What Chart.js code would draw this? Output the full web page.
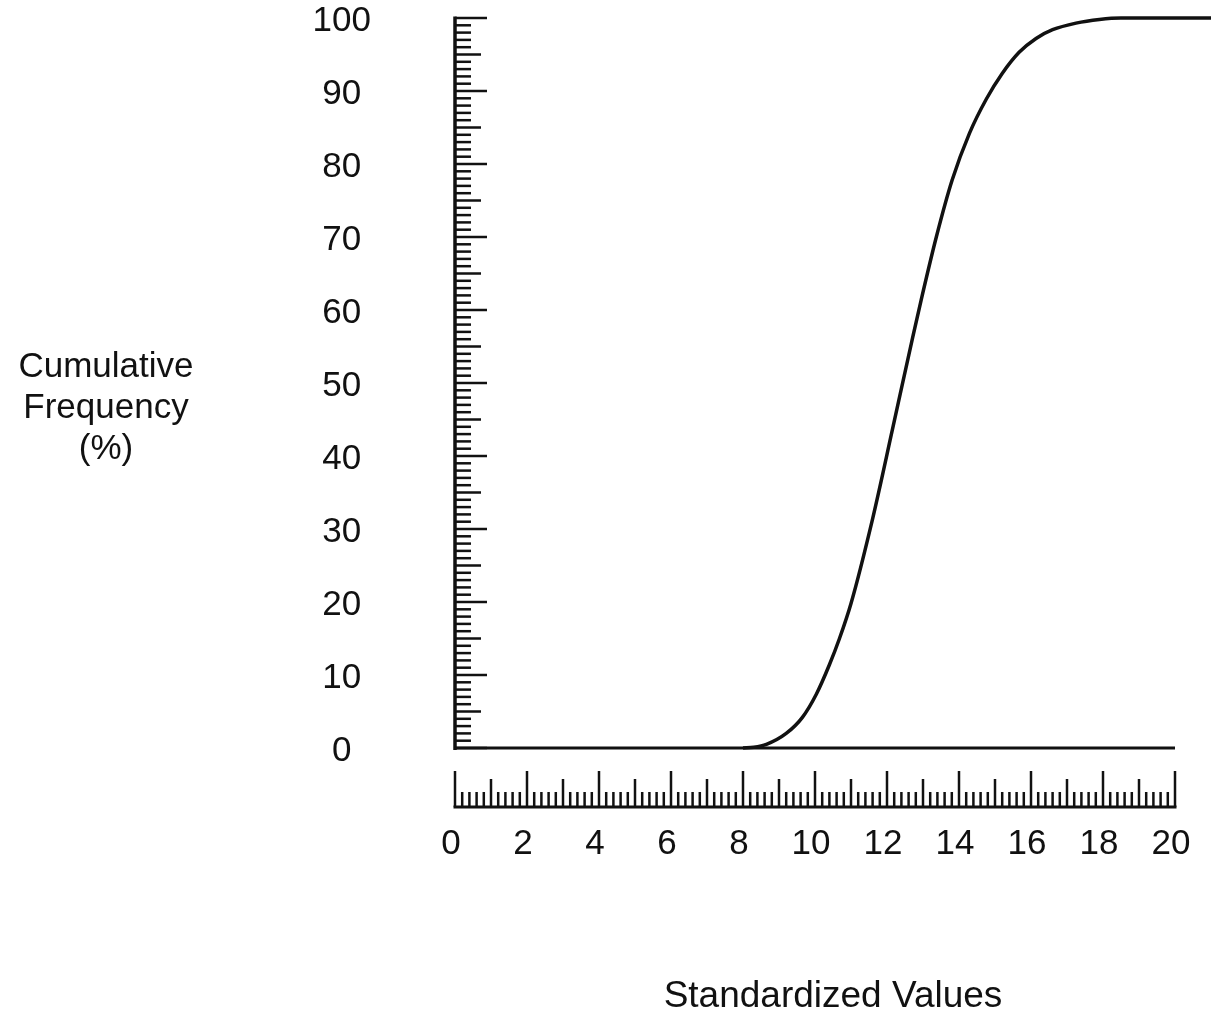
<!DOCTYPE html>
<html lang="en">
<head>
    <meta charset="UTF-8">
    <title>Cumulative Frequency</title>
    <style>
        html, body { margin: 0; padding: 0; background: #fff; }
        .wrap { position: relative; width: 1211px; height: 1016px; }
        .y-title {
            position: absolute; left: 0; top: 344px; width: 212px;
            text-align: center; font-family: "Liberation Sans", Arial, sans-serif;
            font-size: 35px; line-height: 41px; color: #111;
        }
    </style>
    <script src="https://cdn.jsdelivr.net/npm/chart.js"></script>
</head>
<body>
    <div class="wrap">
        <canvas id="myChart" width="1211" height="1016"></canvas>
        <div class="y-title">Cumulative<br>Frequency<br>(%)</div>
    </div>

    <script>
        // cumulative curve (standardized value, percent)
        var curveX = [8.0, 8.3, 8.65, 9.2, 9.65, 10.04, 10.4, 10.68, 11.0, 11.6, 12.15, 12.43, 12.68, 12.95,
                      13.37, 13.81, 14.29, 14.76, 15.2, 15.67, 16.14, 16.6, 17.25, 17.9, 18.5, 21];
        var curveY = [0, 0.1, 0.5, 2.0, 4.2, 7.4, 11.4, 15.0, 19.8, 31.4, 43.6, 49.9, 55.5, 61.4,
                      70.0, 77.8, 84.2, 88.9, 92.4, 95.3, 97.2, 98.4, 99.3, 99.8, 100, 100];

        // zero line under the curve
        var baseX = [0, 20];
        var baseY = [0, 0];

        var xTickLabels = [0, 2, 4, 6, 8, 10, 12, 14, 16, 18, 20];
        var yTickLabels = [0, 10, 20, 30, 40, 50, 60, 70, 80, 90, 100];

        function toPoints(xs, ys) {
            return xs.map(function (x, i) { return { x: x, y: ys[i] }; });
        }

        var ink = '#111';
        var font = { family: '"Liberation Sans", Arial, sans-serif', size: 35, lineHeight: 1 };

        // keep the label padding from shrinking the plot area
        function noEdgePadding(scale) {
            scale.paddingLeft = 0;
            scale.paddingRight = 0;
            scale.paddingTop = 0;
            scale.paddingBottom = 0;
        }

        // ruler style tick marks, drawn from the scales' own ticks
        var rulerPlugin = {
            id: 'ruler',
            afterDatasetsDraw: function (chart) {
                var ctx = chart.ctx;
                var xs = chart.scales.x, ys = chart.scales.y;
                var x0 = xs.getPixelForValue(0), x20 = xs.getPixelForValue(20);
                var y0 = ys.getPixelForValue(0), y100 = ys.getPixelForValue(100);
                ctx.save();
                ctx.strokeStyle = ink;
                ctx.lineCap = 'butt';

                // y axis line + inward ticks
                ctx.lineWidth = 3.5;
                ctx.beginPath();
                ctx.moveTo(x0, y0 + 2);
                ctx.lineTo(x0, y100 - 1.5);
                ctx.stroke();
                ctx.lineWidth = 2.5;
                ys.ticks.forEach(function (t) {
                    var v = Math.round(t.value);
                    var len = v % 10 === 0 ? 32 : (v % 5 === 0 ? 26 : 16);
                    var py = ys.getPixelForValue(t.value);
                    ctx.beginPath();
                    ctx.moveTo(x0, py);
                    ctx.lineTo(x0 + len, py);
                    ctx.stroke();
                });

                // x ruler below the plot
                var ry = y0 + 59;
                ctx.lineWidth = 3;
                ctx.beginPath();
                ctx.moveTo(x0 - 1.5, ry);
                ctx.lineTo(x20 + 1.5, ry);
                ctx.stroke();
                ctx.lineWidth = 2.5;
                xs.ticks.forEach(function (t) {
                    if (t.value > 20.001) return;
                    var k = Math.round(t.value * 5);
                    var len = k % 10 === 0 ? 36 : (k % 5 === 0 ? 28 : 15);
                    var px = xs.getPixelForValue(t.value);
                    ctx.beginPath();
                    ctx.moveTo(px, ry);
                    ctx.lineTo(px, ry - len);
                    ctx.stroke();
                });
                ctx.restore();
            }
        };

        var ctx = document.querySelector('#myChart');

        new Chart(ctx, {
            type: 'line',
            data: {
                datasets: [
                    {
                        label: 'cumulative',
                        data: toPoints(curveX, curveY),
                        borderColor: ink,
                        borderWidth: 3.5,
                        pointRadius: 0,
                        cubicInterpolationMode: 'monotone',
                        clip: false
                    },
                    {
                        label: 'zero',
                        data: toPoints(baseX, baseY),
                        borderColor: ink,
                        borderWidth: 3,
                        pointRadius: 0,
                        clip: false
                    }
                ]
            },
            options: {
                responsive: false,
                animation: false,
                layout: { padding: { top: 18, left: 0, right: 0, bottom: 0 } },
                plugins: {
                    legend: { display: false },
                    tooltip: { enabled: false }
                },
                scales: {
                    x: {
                        type: 'linear',
                        min: 0,
                        max: 21,
                        grid: { display: false, drawTicks: false },
                        border: { display: false },
                        afterFit: function (scale) {
                            scale.height = 268;
                            noEdgePadding(scale);
                        },
                        ticks: {
                            stepSize: 0.2,
                            autoSkip: false,
                            maxRotation: 0,
                            padding: 79,
                            labelOffset: -4,
                            color: ink,
                            font: font,
                            callback: function (v) {
                                var r = Math.round(v);
                                return (Math.abs(v - r) < 1e-6 && xTickLabels.indexOf(r) >= 0) ? String(r) : '';
                            }
                        },
                        title: {
                            display: true,
                            text: 'Standardized Values',
                            color: ink,
                            padding: { top: 0, bottom: 0 },
                            font: { family: font.family, size: 37, lineHeight: 1.05 }
                        }
                    },
                    y: {
                        min: 0,
                        max: 100,
                        grid: { display: false, drawTicks: false },
                        border: { display: false },
                        afterFit: function (scale) {
                            scale.width = 455;
                            noEdgePadding(scale);
                        },
                        ticks: {
                            stepSize: 1,
                            autoSkip: false,
                            crossAlign: 'center',
                            padding: 84,
                            labelOffset: 3,
                            color: ink,
                            font: font,
                            callback: function (v) {
                                var r = Math.round(v);
                                return yTickLabels.indexOf(r) >= 0 && Math.abs(v - r) < 1e-6 ? String(r) : '';
                            }
                        }
                    }
                }
            },
            plugins: [rulerPlugin]
        });
    </script>
</body>
</html>
